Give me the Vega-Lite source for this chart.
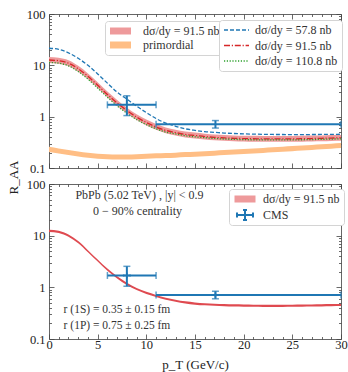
{
  "$schema": "https://vega.github.io/schema/vega-lite/v6.json",
  "background": "white",
  "padding": {"left": 6, "top": 7, "right": 4, "bottom": 0},
  "spacing": 16,
  "bounds": "flush",
  "resolve": {
    "scale": {"fill": "independent", "stroke": "independent", "shape": "independent", "strokeDash": "independent"},
    "legend": {"fill": "independent", "stroke": "independent", "shape": "independent", "strokeDash": "independent"}
  },
  "datasets": {
    "bands": [
      {"x": 0, "rlo": 11.14, "rhi": 14.48, "olo": 0.205, "ohi": 0.258},
      {"x": 1, "rlo": 10.79, "rhi": 14.02, "olo": 0.192, "ohi": 0.241},
      {"x": 2, "rlo": 9.65, "rhi": 12.54, "olo": 0.179, "ohi": 0.224},
      {"x": 3, "rlo": 7.54, "rhi": 9.80, "olo": 0.167, "ohi": 0.209},
      {"x": 4, "rlo": 5.35, "rhi": 6.95, "olo": 0.158, "ohi": 0.198},
      {"x": 5, "rlo": 3.60, "rhi": 4.67, "olo": 0.152, "ohi": 0.19},
      {"x": 6, "rlo": 2.37, "rhi": 3.08, "olo": 0.148, "ohi": 0.186},
      {"x": 7, "rlo": 1.62, "rhi": 2.11, "olo": 0.146, "ohi": 0.184},
      {"x": 8, "rlo": 1.16, "rhi": 1.50, "olo": 0.146, "ohi": 0.184},
      {"x": 9, "rlo": 0.86, "rhi": 1.12, "olo": 0.148, "ohi": 0.186},
      {"x": 10, "rlo": 0.675, "rhi": 0.878, "olo": 0.151, "ohi": 0.189},
      {"x": 11, "rlo": 0.553, "rhi": 0.718, "olo": 0.154, "ohi": 0.193},
      {"x": 12, "rlo": 0.474, "rhi": 0.616, "olo": 0.156, "ohi": 0.196},
      {"x": 13, "rlo": 0.43, "rhi": 0.559, "olo": 0.159, "ohi": 0.199},
      {"x": 14, "rlo": 0.395, "rhi": 0.513, "olo": 0.163, "ohi": 0.204},
      {"x": 15, "rlo": 0.377, "rhi": 0.49, "olo": 0.166, "ohi": 0.208},
      {"x": 16, "rlo": 0.36, "rhi": 0.467, "olo": 0.17, "ohi": 0.213},
      {"x": 17, "rlo": 0.346, "rhi": 0.45, "olo": 0.174, "ohi": 0.218},
      {"x": 18, "rlo": 0.338, "rhi": 0.439, "olo": 0.179, "ohi": 0.224},
      {"x": 19, "rlo": 0.332, "rhi": 0.431, "olo": 0.183, "ohi": 0.23},
      {"x": 20, "rlo": 0.328, "rhi": 0.426, "olo": 0.188, "ohi": 0.235},
      {"x": 21, "rlo": 0.325, "rhi": 0.423, "olo": 0.192, "ohi": 0.241},
      {"x": 22, "rlo": 0.325, "rhi": 0.422, "olo": 0.196, "ohi": 0.246},
      {"x": 23, "rlo": 0.324, "rhi": 0.421, "olo": 0.202, "ohi": 0.253},
      {"x": 24, "rlo": 0.324, "rhi": 0.421, "olo": 0.207, "ohi": 0.26},
      {"x": 25, "rlo": 0.325, "rhi": 0.422, "olo": 0.213, "ohi": 0.267},
      {"x": 26, "rlo": 0.326, "rhi": 0.424, "olo": 0.219, "ohi": 0.274},
      {"x": 27, "rlo": 0.329, "rhi": 0.428, "olo": 0.225, "ohi": 0.282},
      {"x": 28, "rlo": 0.332, "rhi": 0.432, "olo": 0.231, "ohi": 0.29},
      {"x": 29, "rlo": 0.336, "rhi": 0.437, "olo": 0.238, "ohi": 0.298},
      {"x": 30, "rlo": 0.339, "rhi": 0.441, "olo": 0.244, "ohi": 0.306}
    ],
    "curves": [
      {"x": 0, "s578": 21.5, "s915": 12.7, "s1108": 11.4},
      {"x": 1, "s578": 20.5, "s915": 12.3, "s1108": 11.0},
      {"x": 2, "s578": 17.5, "s915": 11.0, "s1108": 9.8},
      {"x": 3, "s578": 13.7, "s915": 8.6, "s1108": 7.6},
      {"x": 4, "s578": 10.0, "s915": 6.1, "s1108": 5.4},
      {"x": 5, "s578": 6.8, "s915": 4.1, "s1108": 3.6},
      {"x": 6, "s578": 4.5, "s915": 2.7, "s1108": 2.4},
      {"x": 7, "s578": 3.0, "s915": 1.85, "s1108": 1.63},
      {"x": 8, "s578": 2.2, "s915": 1.32, "s1108": 1.17},
      {"x": 9, "s578": 1.6, "s915": 0.98, "s1108": 0.88},
      {"x": 10, "s578": 1.2, "s915": 0.77, "s1108": 0.7},
      {"x": 11, "s578": 0.92, "s915": 0.63, "s1108": 0.58},
      {"x": 12, "s578": 0.75, "s915": 0.54, "s1108": 0.5},
      {"x": 13, "s578": 0.65, "s915": 0.49, "s1108": 0.46},
      {"x": 14, "s578": 0.58, "s915": 0.45, "s1108": 0.425},
      {"x": 15, "s578": 0.54, "s915": 0.43, "s1108": 0.405},
      {"x": 16, "s578": 0.51, "s915": 0.41, "s1108": 0.39},
      {"x": 17, "s578": 0.495, "s915": 0.395, "s1108": 0.376},
      {"x": 18, "s578": 0.48, "s915": 0.385, "s1108": 0.367},
      {"x": 19, "s578": 0.47, "s915": 0.378, "s1108": 0.361},
      {"x": 20, "s578": 0.462, "s915": 0.374, "s1108": 0.357},
      {"x": 21, "s578": 0.457, "s915": 0.371, "s1108": 0.354},
      {"x": 22, "s578": 0.453, "s915": 0.37, "s1108": 0.353},
      {"x": 23, "s578": 0.45, "s915": 0.369, "s1108": 0.352},
      {"x": 24, "s578": 0.449, "s915": 0.369, "s1108": 0.352},
      {"x": 25, "s578": 0.448, "s915": 0.37, "s1108": 0.353},
      {"x": 26, "s578": 0.448, "s915": 0.372, "s1108": 0.355},
      {"x": 27, "s578": 0.449, "s915": 0.375, "s1108": 0.358},
      {"x": 28, "s578": 0.45, "s915": 0.379, "s1108": 0.362},
      {"x": 29, "s578": 0.452, "s915": 0.383, "s1108": 0.366},
      {"x": 30, "s578": 0.455, "s915": 0.387, "s1108": 0.37}
    ],
    "fit": [
      {"x": 0, "lo": 11.8, "hi": 13.0},
      {"x": 1, "lo": 11.25, "hi": 12.4},
      {"x": 2, "lo": 9.53, "hi": 10.5},
      {"x": 3, "lo": 7.15, "hi": 7.87},
      {"x": 4, "lo": 4.77, "hi": 5.25},
      {"x": 5, "lo": 3.15, "hi": 3.46},
      {"x": 6, "lo": 2.1, "hi": 2.31},
      {"x": 7, "lo": 1.48, "hi": 1.63},
      {"x": 8, "lo": 1.11, "hi": 1.23},
      {"x": 9, "lo": 0.887, "hi": 0.976},
      {"x": 10, "lo": 0.744, "hi": 0.819},
      {"x": 11, "lo": 0.648, "hi": 0.714},
      {"x": 12, "lo": 0.572, "hi": 0.63},
      {"x": 13, "lo": 0.524, "hi": 0.577},
      {"x": 14, "lo": 0.486, "hi": 0.535},
      {"x": 15, "lo": 0.462, "hi": 0.509},
      {"x": 16, "lo": 0.448, "hi": 0.493},
      {"x": 17, "lo": 0.439, "hi": 0.483},
      {"x": 18, "lo": 0.431, "hi": 0.474},
      {"x": 19, "lo": 0.425, "hi": 0.468},
      {"x": 20, "lo": 0.421, "hi": 0.464},
      {"x": 21, "lo": 0.419, "hi": 0.462},
      {"x": 22, "lo": 0.417, "hi": 0.46},
      {"x": 23, "lo": 0.417, "hi": 0.46},
      {"x": 24, "lo": 0.417, "hi": 0.46},
      {"x": 25, "lo": 0.419, "hi": 0.462},
      {"x": 26, "lo": 0.421, "hi": 0.464},
      {"x": 27, "lo": 0.424, "hi": 0.467},
      {"x": 28, "lo": 0.427, "hi": 0.47},
      {"x": 29, "lo": 0.431, "hi": 0.474},
      {"x": 30, "lo": 0.435, "hi": 0.478}
    ],
    "cms": [
      {"x": 8, "xlo": 6, "xhi": 11, "y": 1.7, "ylo": 1.05, "yhi": 2.55},
      {"x": 17.1, "xlo": 11, "xhi": 30, "y": 0.71, "ylo": 0.6, "yhi": 0.84}
    ]
  },
  "vconcat": [
    {
      "width": 292,
      "height": 154,
      "layer": [
        {
          "data": {"name": "bands"},
          "mark": {"type": "area", "opacity": 1, "interpolate": "monotone"},
          "encoding": {
            "x": {"field": "x", "type": "quantitative", "scale": {"domain": [0, 30], "nice": false, "zero": false},
              "axis": {"orient": "bottom", "values": [0,1,2,3,4,5,6,7,8,9,10,11,12,13,14,15,16,17,18,19,20,21,22,23,24,25,26,27,28,29,30], "labels": false, "title": null,
                "tickSize": {"condition": {"test": "datum.value % 5 === 0", "value": -5}, "value": -2.5}}},
            "y": {"field": "rlo", "type": "quantitative", "scale": {"type": "log", "domain": [0.1, 100], "nice": false},
              "axis": {"orient": "left", "values": [0.1,0.2,0.3,0.4,0.5,0.6,0.7,0.8,0.9,1,2,3,4,5,6,7,8,9,10,20,30,40,50,60,70,80,90,100],
                "labelExpr": "(datum.value === 0.1 || datum.value === 1 || datum.value === 10 || datum.value === 100) ? format(datum.value, '~g') : ''",
                "labelPadding": 9,
                "tickSize": {"condition": {"test": "datum.value === 0.1 || datum.value === 1 || datum.value === 10 || datum.value === 100", "value": -5}, "value": -2.5},
                "title": "R_AA", "titleX": -36, "titleY": 163, "titleAngle": 270, "titleAlign": "center", "titleBaseline": "middle"}},
            "y2": {"field": "rhi"},
            "fill": {"datum": "dσ/dy = 91.5 nb", "type": "nominal",
              "scale": {"domain": ["dσ/dy = 91.5 nb", "primordial"], "range": ["#ee9a9b", "#ffbe85"]},
              "legend": {"title": null, "orient": "none", "legendX": 56, "legendY": 7, "padding": 4, "rowPadding": 2,
                "symbolType": "M-1,-0.7H3.2V0.7H-1Z", "symbolSize": 100, "symbolStrokeWidth": 0, "labelOffset": 22}}
          }
        },
        {
          "data": {"name": "bands"},
          "mark": {"type": "area", "opacity": 1, "interpolate": "monotone"},
          "encoding": {
            "x": {"field": "x", "type": "quantitative", "axis": null},
            "y": {"field": "olo", "type": "quantitative", "axis": null},
            "y2": {"field": "ohi"},
            "fill": {"datum": "primordial", "type": "nominal"}
          }
        },
        {
          "data": {"name": "curves"},
          "transform": [{"fold": ["s578", "s915", "s1108"], "as": ["series", "val"]}],
          "mark": {"type": "line", "strokeWidth": 1.3, "interpolate": "monotone"},
          "encoding": {
            "x": {"field": "x", "type": "quantitative", "axis": null},
            "y": {"field": "val", "type": "quantitative", "axis": null},
            "stroke": {"field": "series", "type": "nominal",
              "scale": {"domain": ["s578", "s915", "s1108"], "range": ["#1f77b4", "#d62728", "#2ca02c"]},
              "legend": {"title": null, "orient": "none", "legendX": 170, "legendY": 6, "padding": 4, "rowPadding": 3.5,
                "symbolType": "M-1,0H4", "symbolSize": 100, "symbolStrokeWidth": 1.3, "labelOffset": 20,
                "labelExpr": "datum.label === 's578' ? 'dσ/dy = 57.8 nb' : datum.label === 's915' ? 'dσ/dy = 91.5 nb' : 'dσ/dy = 110.8 nb'"}},
            "strokeDash": {"field": "series", "type": "nominal",
              "scale": {"domain": ["s578", "s915", "s1108"], "range": [[4, 2], [6, 1.8, 1.2, 1.8], [1.2, 1.6]]},
              "legend": {"title": null, "orient": "none", "legendX": 170, "legendY": 6, "padding": 4, "rowPadding": 3.5,
                "symbolType": "M-1,0H4", "symbolSize": 100, "symbolStrokeWidth": 1.3, "labelOffset": 20,
                "labelExpr": "datum.label === 's578' ? 'dσ/dy = 57.8 nb' : datum.label === 's915' ? 'dσ/dy = 91.5 nb' : 'dσ/dy = 110.8 nb'"}}
          }
        },
        {
          "mark": {"type": "rule", "color": "black", "strokeWidth": 0.8, "strokeDash": [2, 1.5]},
          "encoding": {"y": {"datum": 1, "type": "quantitative", "axis": null}}
        },
        {
          "data": {"name": "cms"},
          "mark": {"type": "rule", "color": "#1f77b4", "strokeWidth": 2},
          "encoding": {
            "x": {"field": "xlo", "type": "quantitative",
              "axis": {"orient": "top", "values": [0,1,2,3,4,5,6,7,8,9,10,11,12,13,14,15,16,17,18,19,20,21,22,23,24,25,26,27,28,29,30], "labels": false, "title": null,
                "tickSize": {"condition": {"test": "datum.value % 5 === 0", "value": -5}, "value": -2.5}}},
            "x2": {"field": "xhi"},
            "y": {"field": "y", "type": "quantitative",
              "axis": {"orient": "right", "values": [0.1,0.2,0.3,0.4,0.5,0.6,0.7,0.8,0.9,1,2,3,4,5,6,7,8,9,10,20,30,40,50,60,70,80,90,100], "labels": false, "title": null,
                "tickSize": {"condition": {"test": "datum.value === 0.1 || datum.value === 1 || datum.value === 10 || datum.value === 100", "value": -5}, "value": -2.5}}}
          }
        },
        {
          "data": {"name": "cms"},
          "mark": {"type": "rule", "color": "#1f77b4", "strokeWidth": 2},
          "encoding": {
            "x": {"field": "x", "type": "quantitative", "axis": null},
            "y": {"field": "ylo", "type": "quantitative", "axis": null},
            "y2": {"field": "yhi"}
          }
        },
        {
          "data": {"name": "cms"},
          "transform": [{"fold": ["xlo", "xhi"], "as": ["end", "xe"]}],
          "mark": {"type": "tick", "orient": "vertical", "color": "#1f77b4", "size": 7, "thickness": 1.5},
          "encoding": {
            "x": {"field": "xe", "type": "quantitative", "axis": null},
            "y": {"field": "y", "type": "quantitative", "axis": null}
          }
        },
        {
          "data": {"name": "cms"},
          "transform": [{"fold": ["ylo", "yhi"], "as": ["end", "ye"]}],
          "mark": {"type": "tick", "orient": "horizontal", "color": "#1f77b4", "size": 7, "thickness": 1.5},
          "encoding": {
            "x": {"field": "x", "type": "quantitative", "axis": null},
            "y": {"field": "ye", "type": "quantitative", "axis": null}
          }
        }
      ]
    },
    {
      "width": 292,
      "height": 155,
      "layer": [
        {
          "data": {"name": "fit"},
          "mark": {"type": "area", "opacity": 1, "interpolate": "monotone", "color": "#df4a50"},
          "encoding": {
            "x": {"field": "x", "type": "quantitative", "scale": {"domain": [0, 30], "nice": false, "zero": false},
              "axis": {"orient": "bottom", "values": [0,1,2,3,4,5,6,7,8,9,10,11,12,13,14,15,16,17,18,19,20,21,22,23,24,25,26,27,28,29,30],
                "labelExpr": "datum.value % 5 === 0 ? datum.label : ''", "labelPadding": 4,
                "tickSize": {"condition": {"test": "datum.value % 5 === 0", "value": -5}, "value": -2.5},
                "title": "p_T (GeV/c)", "titlePadding": 5}},
            "y": {"field": "lo", "type": "quantitative", "scale": {"type": "log", "domain": [0.1, 100], "nice": false},
              "axis": {"orient": "left", "values": [0.1,0.2,0.3,0.4,0.5,0.6,0.7,0.8,0.9,1,2,3,4,5,6,7,8,9,10,20,30,40,50,60,70,80,90,100],
                "labelExpr": "(datum.value === 0.1 || datum.value === 1 || datum.value === 10 || datum.value === 100) ? format(datum.value, '~g') : ''",
                "labelPadding": 9,
                "tickSize": {"condition": {"test": "datum.value === 0.1 || datum.value === 1 || datum.value === 10 || datum.value === 100", "value": -5}, "value": -2.5},
                "title": null}},
            "y2": {"field": "hi"}
          }
        },
        {
          "data": {"name": "cms"},
          "mark": {"type": "rule", "color": "#1f77b4", "strokeWidth": 2},
          "encoding": {
            "x": {"field": "xlo", "type": "quantitative",
              "axis": {"orient": "top", "values": [0,1,2,3,4,5,6,7,8,9,10,11,12,13,14,15,16,17,18,19,20,21,22,23,24,25,26,27,28,29,30], "labels": false, "title": null,
                "tickSize": {"condition": {"test": "datum.value % 5 === 0", "value": -5}, "value": -2.5}}},
            "x2": {"field": "xhi"},
            "y": {"field": "y", "type": "quantitative",
              "axis": {"orient": "right", "values": [0.1,0.2,0.3,0.4,0.5,0.6,0.7,0.8,0.9,1,2,3,4,5,6,7,8,9,10,20,30,40,50,60,70,80,90,100], "labels": false, "title": null,
                "tickSize": {"condition": {"test": "datum.value === 0.1 || datum.value === 1 || datum.value === 10 || datum.value === 100", "value": -5}, "value": -2.5}}}
          }
        },
        {
          "data": {"name": "cms"},
          "mark": {"type": "rule", "color": "#1f77b4", "strokeWidth": 2},
          "encoding": {
            "x": {"field": "x", "type": "quantitative", "axis": null},
            "y": {"field": "ylo", "type": "quantitative", "axis": null},
            "y2": {"field": "yhi"}
          }
        },
        {
          "data": {"name": "cms"},
          "transform": [{"fold": ["xlo", "xhi"], "as": ["end", "xe"]}],
          "mark": {"type": "tick", "orient": "vertical", "color": "#1f77b4", "size": 7, "thickness": 1.5},
          "encoding": {
            "x": {"field": "xe", "type": "quantitative", "axis": null},
            "y": {"field": "y", "type": "quantitative", "axis": null}
          }
        },
        {
          "data": {"name": "cms"},
          "transform": [{"fold": ["ylo", "yhi"], "as": ["end", "ye"]}],
          "mark": {"type": "tick", "orient": "horizontal", "color": "#1f77b4", "size": 7, "thickness": 1.5},
          "encoding": {
            "x": {"field": "x", "type": "quantitative", "axis": null},
            "y": {"field": "ye", "type": "quantitative", "axis": null}
          }
        },
        {
          "data": {"name": "cms"},
          "mark": {"type": "point", "size": 16, "strokeWidth": 1.5, "opacity": 1},
          "encoding": {
            "x": {"field": "x", "type": "quantitative", "axis": null},
            "y": {"field": "y", "type": "quantitative", "axis": null},
            "shape": {"datum": "CMS", "type": "nominal",
              "scale": {"domain": ["dσ/dy = 91.5 nb", "CMS"], "range": ["M-2.1,-0.7H2.1V0.7H-2.1Z", "M-1.6,0H1.6M0,-1V1M-1.6,-0.5V0.5M1.6,-0.5V0.5M-0.4,-1H0.4M-0.4,1H0.4"]},
              "legend": {"title": null, "orient": "none", "legendX": 180, "legendY": 5, "padding": 4, "rowPadding": 4, "clipHeight": 12, "symbolSize": 100, "symbolOffset": 6, "symbolStrokeWidth": 2, "labelOffset": 12}},
            "fill": {"datum": "CMS", "type": "nominal",
              "scale": {"domain": ["dσ/dy = 91.5 nb", "CMS"], "range": ["#ee9a9b", "transparent"]},
              "legend": {"title": null, "orient": "none", "legendX": 180, "legendY": 5, "padding": 4, "rowPadding": 4, "clipHeight": 12, "symbolSize": 100, "symbolOffset": 6, "symbolStrokeWidth": 2, "labelOffset": 12}},
            "stroke": {"datum": "CMS", "type": "nominal",
              "scale": {"domain": ["dσ/dy = 91.5 nb", "CMS"], "range": ["transparent", "#1f77b4"]},
              "legend": {"title": null, "orient": "none", "legendX": 180, "legendY": 5, "padding": 4, "rowPadding": 4, "clipHeight": 12, "symbolSize": 100, "symbolOffset": 6, "symbolStrokeWidth": 2, "labelOffset": 12}}
          }
        },
        {
          "data": {"values": [
            {"x": 9.3, "y": 61, "text": "PbPb (5.02 TeV) , |y| < 0.9"},
            {"x": 9.1, "y": 29.5, "text": "0 − 90% centrality"}
          ]},
          "mark": {"type": "text", "align": "center", "baseline": "middle", "fontSize": 12, "color": "#333"},
          "encoding": {
            "x": {"field": "x", "type": "quantitative", "axis": null},
            "y": {"field": "y", "type": "quantitative", "axis": null},
            "text": {"field": "text"}
          }
        },
        {
          "data": {"values": [
            {"x": 1.5, "y": 0.365, "text": "r (1S) = 0.35 ± 0.15 fm"},
            {"x": 1.5, "y": 0.18, "text": "r (1P) = 0.75 ± 0.25 fm"}
          ]},
          "mark": {"type": "text", "align": "left", "baseline": "middle", "fontSize": 11.5, "color": "#333"},
          "encoding": {
            "x": {"field": "x", "type": "quantitative", "axis": null},
            "y": {"field": "y", "type": "quantitative", "axis": null},
            "text": {"field": "text"}
          }
        }
      ]
    }
  ],
  "config": {
    "font": "Liberation Serif",
    "view": {"stroke": "#666", "strokeWidth": 1},
    "axis": {"grid": false, "domain": false, "tickColor": "#444", "tickWidth": 0.8,
      "labelFont": "Liberation Serif", "labelFontSize": 12.5, "labelColor": "#222",
      "titleFont": "Liberation Serif", "titleFontWeight": "normal", "titleFontSize": 13, "titleColor": "#222",
      "labelOverlap": false, "labelFlush": false},
    "legend": {"labelFont": "Liberation Serif", "labelFontSize": 12, "labelColor": "#333",
      "fillColor": "white", "strokeColor": "#d4d4d4", "cornerRadius": 3}
  }
}
